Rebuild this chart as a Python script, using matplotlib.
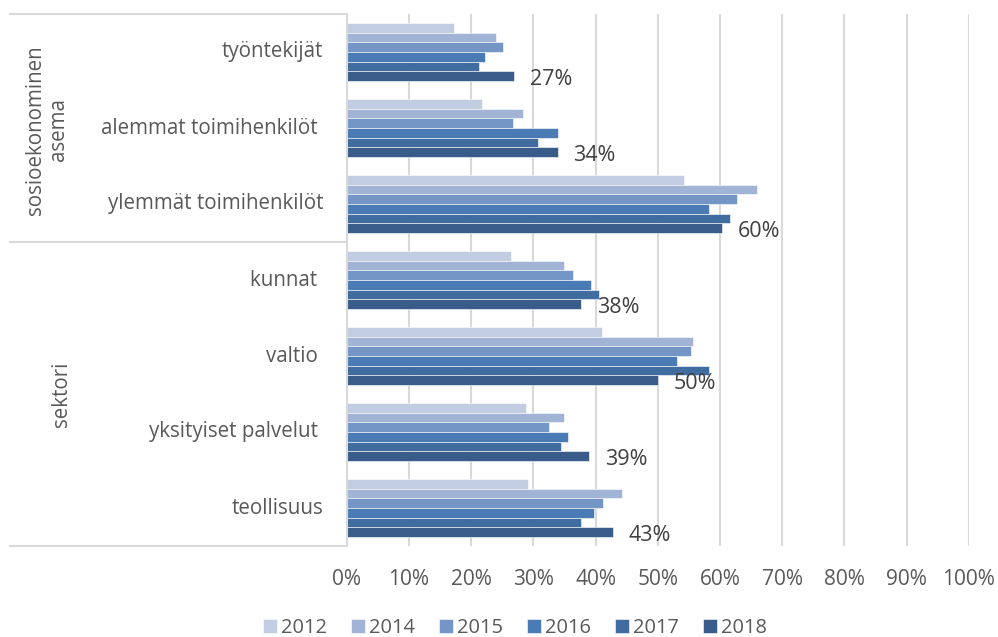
import matplotlib
matplotlib.use("Agg")
import matplotlib.pyplot as plt
from matplotlib.lines import Line2D
import numpy as np

plt.rcParams['font.family'] = ['Open Sans', 'DejaVu Sans']

categories = ["työntekijät", "alemmat toimihenkilöt ", "ylemmät toimihenkilöt",
              "kunnat ", "valtio ", "yksityiset palvelut ", "teollisuus"]
years = ["2012", "2014", "2015", "2016", "2017", "2018"]
v2012 = [17.3, 21.7, 54.3, 26.4, 41.1, 28.8, 29.1]
v2014 = [24.0, 28.3, 65.9, 35.0, 55.7, 35.0, 44.2]
v2015 = [25.1, 26.7, 62.8, 36.4, 55.4, 32.5, 41.2]
v2016 = [22.3, 33.9, 58.2, 39.3, 53.1, 35.6, 39.7]
v2017 = [21.2, 30.8, 61.6, 40.6, 58.3, 34.4, 37.6]
v2018 = [26.9, 33.9, 60.3, 37.7, 50.0, 39.0, 42.8]
labels2018 = ["27%", "34%", "60%", "38%", "50%", "39%", "43%"]
groups = ["sosioekonominen\nasema", "sektori"]
xticks = [0, 10, 20, 30, 40, 50, 60, 70, 80, 90, 100]
xticklabels = ["0%", "10%", "20%", "30%", "40%", "50%", "60%", "70%", "80%", "90%", "100%"]

series = [v2012, v2014, v2015, v2016, v2017, v2018]
colors = ["#c2cde2", "#a1b4d6", "#7496c7", "#4a7bb4", "#416ca0", "#395c8a"]

W, H = 998, 637
fig = plt.figure(figsize=(W / 100, H / 100), dpi=100)
x0, x1 = 346.7, 968.7
y0, y1 = 14, 546
ax = fig.add_axes([x0 / W, 1 - y1 / H, (x1 - x0) / W, (y1 - y0) / H])

n = len(categories)
bh = 9.67 / 76.0
ypos = np.arange(n)
for j, (vals, c) in enumerate(zip(series, colors)):
    off = (j - 2.5) * bh
    ax.barh(ypos + off, vals, height=bh, color=c, edgecolor="white",
            linewidth=0.4, label=years[j], zorder=3)

off18 = 2.5 * bh
for i, (v, lab) in enumerate(zip(v2018, labels2018)):
    ax.annotate(lab, (v, i + off18), xytext=(11.5, -2.5), textcoords="offset points",
                ha="left", va="center", fontsize=15.5, color="#404040", zorder=4)

ax.set_ylim(n - 0.5, -0.5)
ax.set_xlim(0, 100)
ax.set_xticks(xticks)
ax.set_xticklabels(xticklabels)
ax.set_yticks([])
ax.tick_params(axis="x", length=0, pad=16.5, labelsize=15, labelcolor="#595959")
ax.grid(axis="x", color="#d9d9d9", linewidth=1.5, zorder=0)
for s in ["top", "right", "bottom"]:
    ax.spines[s].set_visible(False)
ax.spines["left"].set_color("#d9d9d9")
ax.spines["left"].set_linewidth(1.5)
ax.spines["left"].set_zorder(5)

# category labels
for i, cat in enumerate(categories):
    yc = y0 + (i + 0.5) * (y1 - y0) / n
    fig.text(323 / W, 1 - yc / H, cat, ha="right", va="center",
             fontsize=14.8, color="#595959")

# group box lines
lc = "#d9d9d9"
for yy in [13.5, 242, 546]:
    fig.add_artist(Line2D([10 / W, 346 / W], [1 - yy / H, 1 - yy / H],
                          color=lc, linewidth=1.5))

fig.text(47 / W, 1 - 130 / H, groups[0], rotation=90, ha="center", va="center",
         multialignment="center", fontsize=14.8, color="#595959", linespacing=1.1)
fig.text(62 / W, 1 - 394 / H, groups[1], rotation=90, ha="center", va="center",
         fontsize=14.8, color="#595959")

fig.legend(loc="center", bbox_to_anchor=(515 / W, 1 - 628 / H), ncol=6,
           frameon=False, fontsize=14.4, labelcolor="#595959",
           handlelength=0.7, handleheight=0.7, handletextpad=0.22,
           columnspacing=1.18, borderpad=0)

fig.savefig("out.png", dpi=100)
